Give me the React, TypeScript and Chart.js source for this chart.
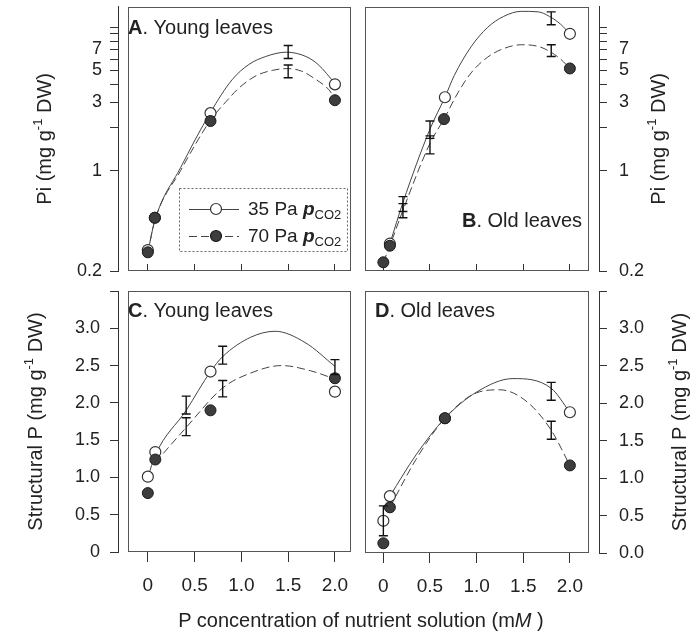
import React, { useEffect, useRef } from 'react';
import { Chart, registerables } from 'chart.js';
Chart.register(...registerables);

const FONT = '"Liberation Sans", Arial, Helvetica, sans-serif';
Chart.defaults.font.family = FONT;
Chart.defaults.color = '#222';

// ---------- shared axis ticks ----------
const xTickValues = [0, 0.5, 1.0, 1.5, 2.0];
const xTickLabels = ['0', '0.5', '1.0', '1.5', '2.0'];
const piTickValues = [0.2, 1, 2, 3, 4, 5, 6, 7, 8, 9, 10];
const piTickLabels = ['0.2', '1', '', '3', '', '5', '', '7', '', '', ''];
const spTickValues = [0, 0.5, 1, 1.5, 2, 2.5, 3, 3.5];
const spTickLabelsC = ['0', '0.5', '1.0', '1.5', '2.0', '2.5', '3.0', ''];
const spTickLabelsD = ['0.0', '0.5', '1.0', '1.5', '2.0', '2.5', '3.0', ''];
const seriesNames = ['35 Pa ', '70 Pa '];

// ---------- Panel A: Pi, young leaves ----------
const aX35 = [0, 0.075, 0.67, 2.0];
const aY35 = [0.28, 0.47, 2.52, 4.0];
const aX70 = [0, 0.075, 0.67, 2.0];
const aY70 = [0.27, 0.47, 2.22, 3.1];
const aErrX35 = [1.5];
const aErrY35 = [6.75];
const aErrSE35 = [0.7];
const aErrX70 = [1.5];
const aErrY70 = [4.95];
const aErrSE70 = [0.5];
const aFitX35 = [0, 0.075, 0.35, 0.67, 0.9, 1.08, 1.26, 1.48, 1.69, 1.82, 2.0];
const aFitY35 = [0.27, 0.45, 1.05, 2.55, 4.3, 5.5, 6.25, 6.7, 6.25, 5.5, 4.06];
const aFitX70 = [0, 0.075, 0.35, 0.67, 0.84, 0.98, 1.16, 1.33, 1.49, 1.64, 1.79, 1.93, 2.0];
const aFitY70 = [0.27, 0.45, 1.0, 2.25, 3.05, 3.8, 4.6, 5.0, 5.15, 4.95, 4.35, 3.7, 3.2];

// ---------- Panel B: Pi, old leaves ----------
const bX35 = [0.07, 0.66, 2.0];
const bY35 = [0.31, 3.25, 9.0];
const bX70 = [0, 0.07, 0.65, 2.0];
const bY70 = [0.23, 0.3, 2.29, 5.16];
const bErrX35 = [0.21, 0.5, 1.8];
const bErrY35 = [0.59, 1.95, 11.6];
const bErrSE35 = [0.07, 0.27, 1.2];
const bErrX70 = [0.21, 0.5, 1.8];
const bErrY70 = [0.53, 1.53, 6.9];
const bErrSE70 = [0.06, 0.22, 0.65];
const bFitX35 = [0.07, 0.21, 0.5, 0.66, 0.76, 0.94, 1.12, 1.29, 1.48, 1.66, 1.78, 1.9, 2.0];
const bFitY35 = [0.31, 0.6, 1.95, 3.25, 4.6, 7.3, 10.0, 11.9, 12.9, 12.8, 11.9, 10.5, 9.0];
const bFitX70 = [0, 0.07, 0.21, 0.5, 0.65, 0.8, 0.94, 1.12, 1.29, 1.48, 1.66, 1.78, 1.9, 2.0];
const bFitY70 = [0.23, 0.3, 0.53, 1.55, 2.29, 3.5, 4.8, 6.2, 7.1, 7.55, 7.35, 6.8, 6.0, 5.16];

// ---------- Panel C: structural P, young leaves ----------
const cX35 = [0, 0.08, 0.67, 2.0];
const cY35 = [1.01, 1.34, 2.42, 2.15];
const cX70 = [0, 0.08, 0.67, 2.0];
const cY70 = [0.79, 1.24, 1.9, 2.33];
const cErrX35 = [0.41, 0.8, 2.0];
const cErrY35 = [1.97, 2.64, 2.48];
const cErrSE35 = [0.12, 0.12, 0.1];
const cErrX70 = [0.41, 0.8];
const cErrY70 = [1.68, 2.19];
const cErrSE70 = [0.12, 0.11];
const cFitX35 = [0, 0.08, 0.41, 0.67, 0.8, 1.1, 1.36, 1.68, 2.0];
const cFitY35 = [1.0, 1.3, 1.9, 2.42, 2.62, 2.88, 2.96, 2.81, 2.49];
const cFitX70 = [0.08, 0.41, 0.8, 1.1, 1.43, 1.74, 2.0];
const cFitY70 = [1.2, 1.67, 2.2, 2.4, 2.5, 2.43, 2.32];

// ---------- Panel D: structural P, old leaves ----------
const dX35 = [0, 0.07, 0.66, 2.0];
const dY35 = [0.43, 0.76, 1.8, 1.88];
const dX70 = [0, 0.07, 0.66, 2.0];
const dY70 = [0.13, 0.61, 1.8, 1.17];
const dErrX35 = [0, 1.8];
const dErrY35 = [0.43, 2.16];
const dErrSE35 = [0.2, 0.12];
const dErrX70 = [1.8];
const dErrY70 = [1.64];
const dErrSE70 = [0.12];
const dFitX35 = [0.07, 0.35, 0.66, 1.0, 1.39, 1.8, 2.0];
const dFitY35 = [0.76, 1.31, 1.8, 2.15, 2.33, 2.2, 1.88];
const dFitX70 = [0.07, 0.35, 0.66, 1.0, 1.25, 1.54, 1.8, 2.0];
const dFitY70 = [0.61, 1.25, 1.8, 2.14, 2.18, 2.02, 1.64, 1.17];

type Seg = { t: string; size?: number; weight?: string; style?: string; dy?: number };

const toPts = (xs: number[], ys: number[]) => xs.map((x, i) => ({ x, y: ys[i] }));

function setFont(ctx: CanvasRenderingContext2D, s: Seg, base: number) {
  ctx.font = `${s.style || 'normal'} ${s.weight || 'normal'} ${s.size || base}px ${FONT}`;
}
function richWidth(ctx: CanvasRenderingContext2D, segs: Seg[], base: number) {
  let w = 0;
  for (const s of segs) {
    setFont(ctx, s, base);
    w += ctx.measureText(s.t).width;
  }
  return w;
}
function drawRich(ctx: CanvasRenderingContext2D, segs: Seg[], x: number, y: number, base: number) {
  let cx = x;
  ctx.textAlign = 'left';
  ctx.textBaseline = 'alphabetic';
  for (const s of segs) {
    setFont(ctx, s, base);
    ctx.fillText(s.t, cx, y + (s.dy || 0));
    cx += ctx.measureText(s.t).width;
  }
}

const piTitle: Seg[] = [{ t: 'Pi (mg g' }, { t: '-1', size: 13, dy: -9 }, { t: ' DW)' }];
const spTitle: Seg[] = [{ t: 'Structural P (mg g' }, { t: '-1', size: 13, dy: -9 }, { t: ' DW)' }];

function buildConfig(p: any) {
  const datasets: any[] = [
    { label: '70 Pa pCO2', data: toPts(p.x70, p.y70), showLine: false, pointRadius: 5.5,
      pointBackgroundColor: '#3d3d3d', pointBorderColor: '#1a1a1a', pointBorderWidth: 1 },
    { label: '35 Pa pCO2', data: toPts(p.x35, p.y35), showLine: false, pointRadius: 5.5,
      pointBackgroundColor: '#ffffff', pointBorderColor: '#333333', pointBorderWidth: 1.2 },
    { label: 'SE 35', data: toPts(p.ex35, p.ey35), se: p.es35, showLine: false, pointRadius: 0 },
    { label: 'SE 70', data: toPts(p.ex70, p.ey70), se: p.es70, showLine: false, pointRadius: 0 },
    { label: 'fit 35', data: toPts(p.fx35, p.fy35), showLine: true, borderColor: '#444', borderWidth: 1,
      pointRadius: 0, cubicInterpolationMode: 'monotone', fill: false },
    { label: 'fit 70', data: toPts(p.fx70, p.fy70), showLine: true, borderColor: '#444', borderWidth: 1,
      borderDash: [8, 4], pointRadius: 0, cubicInterpolationMode: 'monotone', fill: false },
  ];

  const boxPlugin = {
    id: 'panelBox',
    beforeDatasetsDraw(chart: any) {
      const { ctx, chartArea: a } = chart;
      ctx.save();
      ctx.strokeStyle = '#555';
      ctx.lineWidth = 1;
      ctx.strokeRect(Math.round(a.left) + 0.5, Math.round(a.top) + 0.5,
        Math.round(a.right - a.left) - 1, Math.round(a.bottom - a.top) - 1);
      ctx.restore();
    },
  };

  const errPlugin = {
    id: 'errBars',
    afterDatasetsDraw(chart: any) {
      const { ctx, scales } = chart;
      const xs = scales.x, ys = scales.y;
      chart.data.datasets.forEach((ds: any) => {
        if (!ds.se) return;
        ctx.save();
        ctx.strokeStyle = '#111';
        ctx.lineWidth = 1.4;
        ds.data.forEach((pt: any, i: number) => {
          const px = xs.getPixelForValue(pt.x);
          const top = ys.getPixelForValue(pt.y + ds.se[i]);
          const bot = ys.getPixelForValue(pt.y - ds.se[i]);
          ctx.beginPath();
          ctx.moveTo(px, top); ctx.lineTo(px, bot);
          ctx.moveTo(px - 4.5, top); ctx.lineTo(px + 4.5, top);
          ctx.moveTo(px - 4.5, bot); ctx.lineTo(px + 4.5, bot);
          ctx.stroke();
        });
        ctx.restore();
      });
    },
  };

  const decoPlugin = {
    id: 'deco',
    afterDraw(chart: any) {
      const { ctx, chartArea: a } = chart;
      ctx.save();
      ctx.fillStyle = '#222';
      // panel label
      const segs: Seg[] = [{ t: p.letter, weight: 'bold' }, { t: p.caption }];
      const w = richWidth(ctx, segs, 20);
      const lx = p.labelAlign === 'right' ? p.labelX - w : p.labelX;
      drawRich(ctx, segs, lx, p.labelY, 20);
      // y axis title (rotated, reading bottom to top)
      ctx.translate(p.titleX, (a.top + a.bottom) / 2);
      ctx.rotate(-Math.PI / 2);
      const tw = richWidth(ctx, p.title, 20);
      drawRich(ctx, p.title, -tw / 2, 7, 20);
      ctx.restore();

      if (p.legend) {
        const bx = 179, by = 188, bw = 168, bh = 63;
        ctx.save();
        ctx.setLineDash([2, 2]);
        ctx.strokeStyle = '#666';
        ctx.lineWidth = 1;
        ctx.strokeRect(bx + 0.5, by + 0.5, bw, bh);
        const rows = [
          { y: 209, dash: [] as number[], fill: '#ffffff', stroke: '#333', name: seriesNames[0] },
          { y: 236, dash: [8, 4], fill: '#3d3d3d', stroke: '#1a1a1a', name: seriesNames[1] },
        ];
        for (const r of rows) {
          ctx.setLineDash(r.dash);
          ctx.strokeStyle = '#444';
          ctx.beginPath();
          ctx.moveTo(bx + 10, r.y + 0.5);
          ctx.lineTo(bx + 60, r.y + 0.5);
          ctx.stroke();
          ctx.setLineDash([]);
          ctx.beginPath();
          ctx.arc(bx + 37, r.y, 5.5, 0, Math.PI * 2);
          ctx.fillStyle = r.fill;
          ctx.fill();
          ctx.strokeStyle = r.stroke;
          ctx.lineWidth = 1.2;
          ctx.stroke();
          ctx.lineWidth = 1;
          ctx.fillStyle = '#222';
          drawRich(ctx, [
            { t: r.name },
            { t: 'p', weight: 'bold', style: 'italic' },
            { t: 'CO2', size: 13, dy: 4 },
          ], bx + 69, r.y + 6, 19);
        }
        ctx.restore();
      }
    },
  };

  return {
    type: 'scatter',
    data: { datasets },
    plugins: [boxPlugin, errPlugin, decoPlugin],
    options: {
      responsive: false,
      animation: false,
      events: [],
      layout: { padding: p.padding },
      plugins: { legend: { display: false }, tooltip: { enabled: false } },
      scales: {
        x: {
          type: 'linear',
          position: 'bottom',
          min: p.xMin,
          max: p.xMax,
          afterBuildTicks: (s: any) => { s.ticks = xTickValues.map((v) => ({ value: v })); },
          afterFit: (s: any) => { s.height = p.xHeight; s.paddingLeft = 0; s.paddingRight = 0; },
          ticks: {
            display: p.xLabels,
            callback: (_v: any, i: number) => xTickLabels[i],
            font: { size: 19 },
            color: '#222',
            padding: 12,
            autoSkip: false,
            maxRotation: 0,
          },
          grid: { display: true, drawOnChartArea: false, drawTicks: true, tickLength: p.xTickLen, color: '#333', lineWidth: 1 },
          border: { display: false },
        },
        y: {
          type: p.log ? 'logarithmic' : 'linear',
          position: p.yPos,
          weight: 1,
          min: p.yMin,
          max: p.yMax,
          afterBuildTicks: (s: any) => { s.ticks = p.yTicks.map((v: number) => ({ value: v })); },
          afterFit: (s: any) => { s.width = p.yWidth; s.paddingTop = 0; s.paddingBottom = 0; },
          ticks: {
            callback: (_v: any, i: number) => p.yLabels[i],
            font: { size: 18 },
            color: '#222',
            padding: p.yPad,
            autoSkip: false,
          },
          grid: { display: true, drawOnChartArea: false, drawTicks: true, tickLength: 8, color: '#333', lineWidth: 1 },
          border: { display: true, color: '#333', width: 1 },
        },
        yGap: {
          type: 'linear',
          position: p.yPos,
          weight: 0,
          afterFit: (s: any) => { s.width = 10; s.paddingTop = 0; s.paddingBottom = 0; },
          ticks: { display: false },
          grid: { display: false },
          border: { display: false },
        },
      },
    },
  };
}

const panelA = {
  x35: aX35, y35: aY35, x70: aX70, y70: aY70,
  ex35: aErrX35, ey35: aErrY35, es35: aErrSE35, ex70: aErrX70, ey70: aErrY70, es70: aErrSE70,
  fx35: aFitX35, fy35: aFitY35, fx70: aFitX70, fy70: aFitY70,
  log: true, yMin: 0.2, yMax: 13.9, yTicks: piTickValues, yLabels: piTickLabels,
  xMin: -0.212, xMax: 2.175, xLabels: false, xTickLen: -7, xHeight: 9,
  yPos: 'left', yWidth: 86, yPad: 8, padding: { left: 32, right: 5, top: 5, bottom: 0 },
  title: piTitle, titleX: 44, letter: 'A', caption: '. Young leaves', labelX: 128, labelY: 34, labelAlign: 'left',
  legend: true,
};
const panelB = {
  x35: bX35, y35: bY35, x70: bX70, y70: bY70,
  ex35: bErrX35, ey35: bErrY35, es35: bErrSE35, ex70: bErrX70, ey70: bErrY70, es70: bErrSE70,
  fx35: bFitX35, fy35: bFitY35, fx70: bFitX70, fy70: bFitY70,
  log: true, yMin: 0.2, yMax: 13.9, yTicks: piTickValues, yLabels: piTickLabels,
  xMin: -0.2, xMax: 2.205, xLabels: false, xTickLen: -7, xHeight: 9,
  yPos: 'right', yWidth: 71, yPad: 12, padding: { left: 6, right: 23, top: 5, bottom: 0 },
  title: piTitle, titleX: 300, letter: 'B', caption: '. Old leaves', labelX: 224, labelY: 227, labelAlign: 'right',
  legend: false,
};
const panelC = {
  x35: cX35, y35: cY35, x70: cX70, y70: cY70,
  ex35: cErrX35, ey35: cErrY35, es35: cErrSE35, ex70: cErrX70, ey70: cErrY70, es70: cErrSE70,
  fx35: cFitX35, fy35: cFitY35, fx70: cFitX70, fy70: cFitY70,
  log: false, yMin: 0, yMax: 3.5, yTicks: spTickValues, yLabels: spTickLabelsC,
  xMin: -0.212, xMax: 2.175, xLabels: true, xTickLen: 10, xHeight: 58,
  yPos: 'left', yWidth: 95, yPad: 10, padding: { left: 23, right: 5, top: 11, bottom: 0 },
  title: spTitle, titleX: 35, letter: 'C', caption: '. Young leaves', labelX: 128, labelY: 37, labelAlign: 'left',
  legend: false,
};
const panelD = {
  x35: dX35, y35: dY35, x70: dX70, y70: dY70,
  ex35: dErrX35, ey35: dErrY35, es35: dErrSE35, ex70: dErrX70, ey70: dErrY70, es70: dErrSE70,
  fx35: dFitX35, fy35: dFitY35, fx70: dFitX70, fy70: dFitY70,
  log: false, yMin: 0, yMax: 3.5, yTicks: spTickValues, yLabels: spTickLabelsD,
  xMin: -0.2, xMax: 2.205, xLabels: true, xTickLen: 10, xHeight: 57,
  yPos: 'right', yWidth: 92, yPad: 12, padding: { left: 6, right: 2, top: 11, bottom: 0 },
  title: spTitle, titleX: 321, letter: 'D', caption: '. Old leaves', labelX: 17, labelY: 37, labelAlign: 'left',
  legend: false,
};

function Panel({ cfg, left, top, width, height }: any) {
  const ref = useRef<HTMLCanvasElement>(null);
  useEffect(() => {
    const chart = new Chart(ref.current as HTMLCanvasElement, buildConfig(cfg) as any);
    return () => chart.destroy();
  }, []);
  return (
    <canvas ref={ref} width={width} height={height}
      style={{ position: 'absolute', left, top, width, height }} />
  );
}

export default function App() {
  return (
    <div style={{ position: 'absolute', left: 0, top: 0, width: 693, height: 641, background: '#fff', overflow: 'hidden' }}>
      <Panel cfg={panelA} left={0} top={0} width={358} height={280} />
      <Panel cfg={panelB} left={358} top={0} width={335} height={280} />
      <Panel cfg={panelC} left={0} top={280} width={358} height={330} />
      <Panel cfg={panelD} left={358} top={280} width={335} height={330} />
      <div style={{ position: 'absolute', left: 29, top: 608, width: 664, textAlign: 'center', fontFamily: FONT, fontSize: 20, lineHeight: '24px', color: '#222', whiteSpace: 'nowrap' }}>
        P concentration of nutrient solution (m<i>M</i> )
      </div>
    </div>
  );
}
